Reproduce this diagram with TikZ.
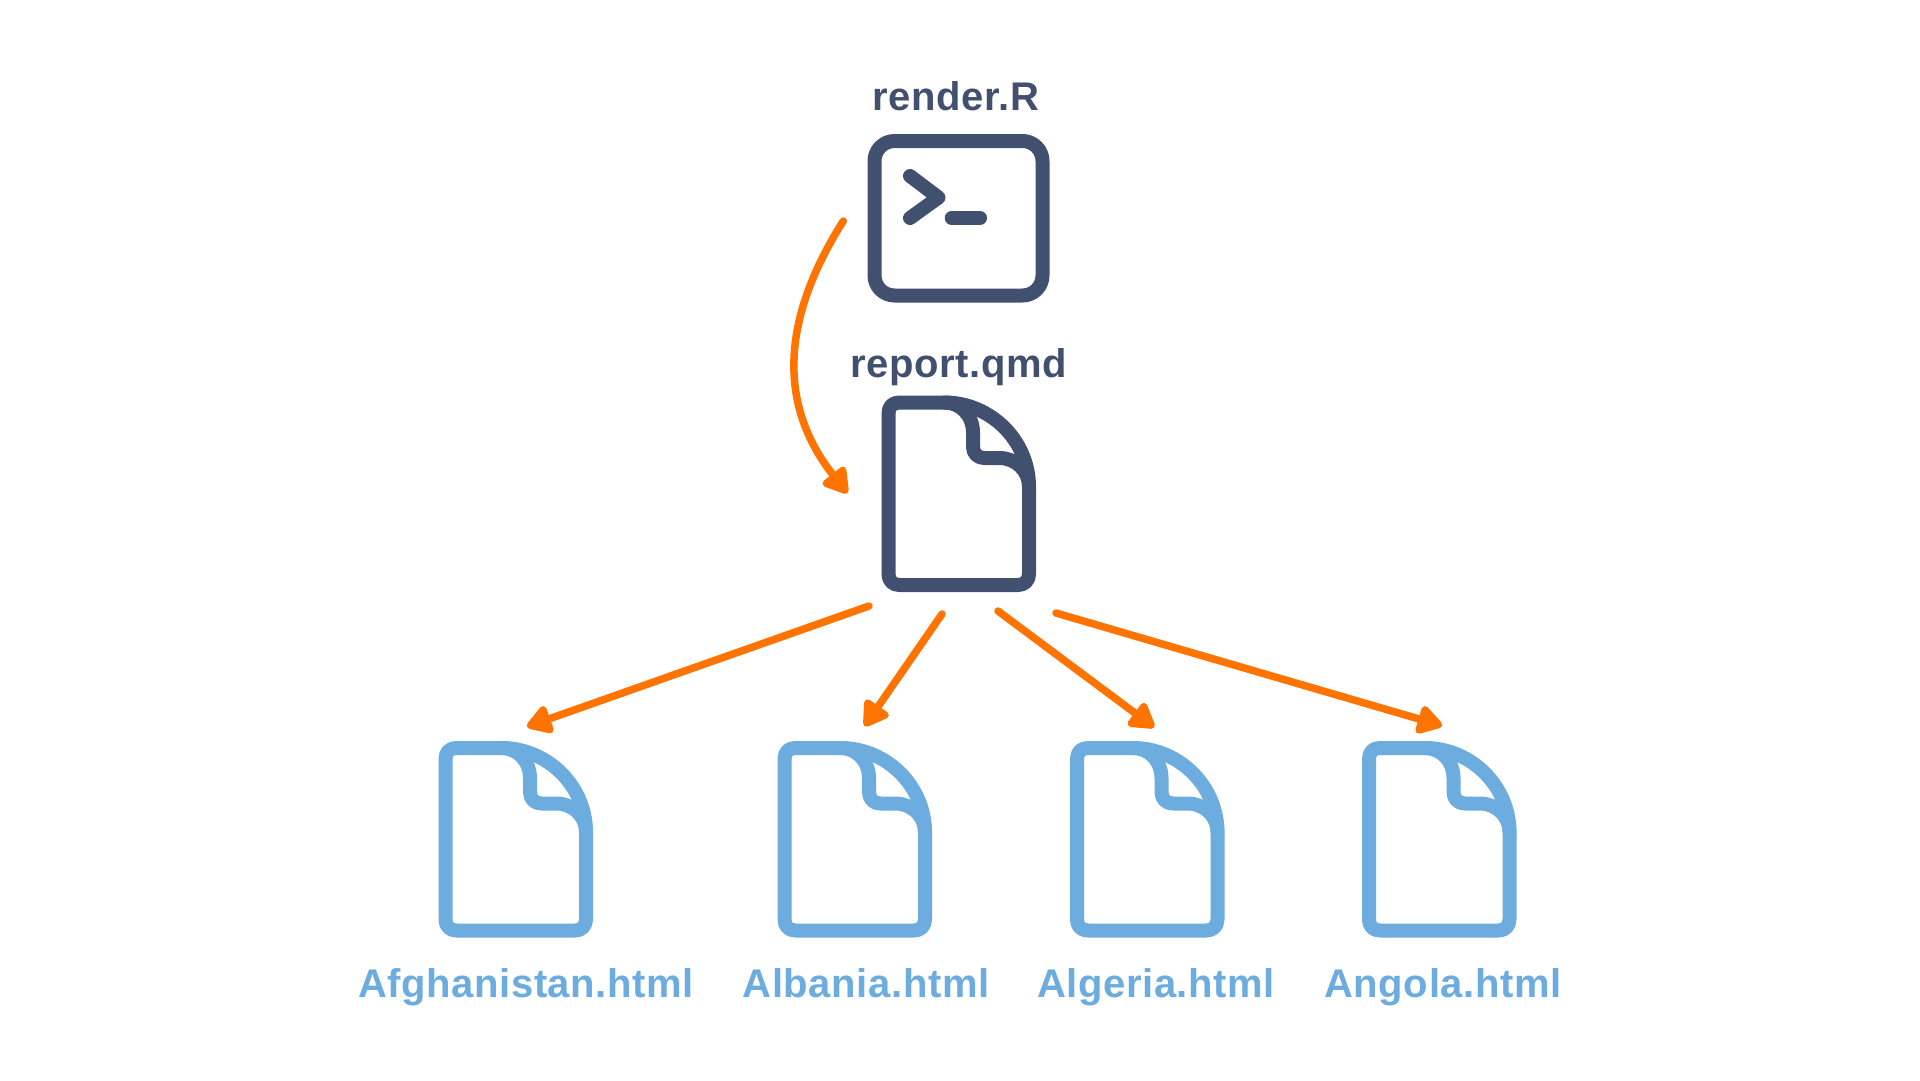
\documentclass[tikz,border=0pt]{standalone}
\usepackage{fontspec}
\setmainfont[LetterSpace=1.5]{Liberation Sans}
\usetikzlibrary{arrows.meta}
\definecolor{slateblue}{HTML}{41506F}
\definecolor{skyblue}{HTML}{6CACDF}
\definecolor{flow}{HTML}{FF7300}
\tikzset{
    label text/.style={font=\fontsize{40}{42}\selectfont\bfseries, inner sep=0pt, anchor=base},
    flow arrow/.style={draw=flow, line width=7.5pt, line cap=round,
        -{Triangle[length=28pt,width=32pt,round]}, shorten >=1pt},
    icon line/.style={line width=14pt, line join=round, line cap=round},
    pics/docicon/.style={code={
        \draw[icon line, #1] (56,0) -- (11,0) .. controls (4,0) and (0,4) .. (0,11) -- (0,171.5)
            .. controls (0,178) and (4,182.5) .. (11,182.5) -- (129.5,182.5)
            .. controls (136,182.5) and (140.5,178) .. (140.5,171.5) -- (140.5,84)
            .. controls (140.5,38) and (102,0) .. (56,0);
        \draw[icon line, #1] (140.5,84) .. controls (140.5,68) and (127,55.5) .. (111,55.5) -- (96,55.5)
            .. controls (89,55.5) and (84.5,51) .. (84.5,44) -- (84.5,30)
            .. controls (84.5,13) and (72,0) .. (56,0);
    }}
}
\begin{document}
\begin{tikzpicture}[x=1pt,y=-1pt]
    \useasboundingbox (0,0) rectangle (1920,1080);
    \fill[white] (0,0) rectangle (1920,1080);

    % Terminal
    \draw[icon line, slateblue, rounded corners=20pt] (874.5,141) rectangle (1042.5,295.5);
    \draw[icon line, slateblue] (910,176) -- (938.5,197.5) -- (910,218);
    \draw[icon line, slateblue] (951.7,218) -- (980,218);

    % Documentos
    \pic at (888.5,402.5) {docicon=slateblue};
    \foreach \x in {445.5,784.5,1077,1369} {
        \pic at (\x,748) {docicon=skyblue};
    }

    % Etiquetas
    \node[label text, text=slateblue] (render) at (956,110) {render.R};
    \node[label text, text=slateblue] (report) at (959,377) {report.qmd};
    \node[label text, text=skyblue] (afg) at (526,997) {Afghanistan.html};
    \node[label text, text=skyblue] (alb) at (866,997) {Albania.html};
    \node[label text, text=skyblue] (alg) at (1156,997) {Algeria.html};
    \node[label text, text=skyblue] (ang) at (1443,997) {Angola.html};

    % Extremos de las flechas
    \coordinate (a0) at (843.3,221);
    \coordinate (a1) at (848,494);
    \coordinate (b1) at (869,606);
    \coordinate (c1) at (526,727);
    \coordinate (b2) at (942,614);
    \coordinate (c2) at (864,727);
    \coordinate (b3) at (998,611);
    \coordinate (c3) at (1155,728);
    \coordinate (b4) at (1056,613);
    \coordinate (c4) at (1443,726);

    % Flechas
    \draw[flow arrow] (a0) .. controls (790,305) and (770,395) .. (a1);
    \draw[flow arrow] (b1) -- (c1);
    \draw[flow arrow] (b2) -- (c2);
    \draw[flow arrow] (b3) -- (c3);
    \draw[flow arrow] (b4) -- (c4);
\end{tikzpicture}
\end{document}
